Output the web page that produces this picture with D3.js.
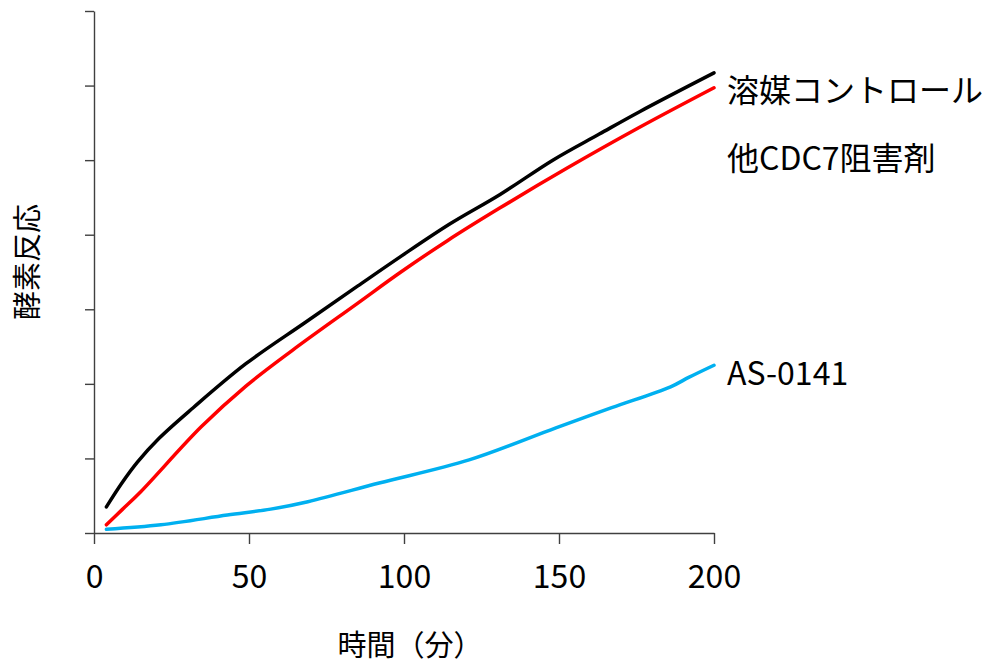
<!DOCTYPE html>
<html>
<head>
<meta charset="utf-8">
<script src="https://cdn.jsdelivr.net/npm/d3@7"></script>
<style>
  html, body { margin: 0; padding: 0; background: #fff; }
  text { font-family: "Noto Sans CJK JP", "Noto Sans", sans-serif; }
</style>
</head>
<body>
<svg id="chart" width="990" height="664"></svg>
<script>
// ---- data ----
const seriesNames = ["溶媒コントロール", "他CDC7阻害剤", "AS-0141"];
const timeVehicle = [4, 9, 14, 21, 32, 49, 68, 85, 99, 115, 131, 148, 163, 176, 200];
const valVehicle  = [0.35, 0.67, 0.95, 1.27, 1.68, 2.27, 2.82, 3.31, 3.71, 4.15, 4.54, 5.00, 5.35, 5.65, 6.17];
const timeOther   = [4, 9, 15, 34.5, 49, 64, 85, 99, 114, 131, 152.5, 176, 200];
const valOther    = [0.11, 0.31, 0.55, 1.42, 1.97, 2.45, 3.08, 3.50, 3.92, 4.36, 4.89, 5.44, 5.97];
const timeAS      = [4, 21.6, 43, 57, 69, 92, 121, 149, 167, 186, 192, 200];
const valAS       = [0.05, 0.11, 0.24, 0.32, 0.42, 0.67, 0.98, 1.41, 1.68, 1.96, 2.09, 2.25];
const xTicks = [0, 50, 100, 150, 200];
const yTicks = [0, 1, 2, 3, 4, 5, 6, 7];
const xTitle = "時間（分）";
const yTitle = "酵素反応";
const colors = ["#000000", "#ff0000", "#00b0f0"];

// ---- layout ----
const svg = d3.select("#chart");
const x = d3.scaleLinear().domain([0, 200]).range([94, 714]);
const y = d3.scaleLinear().domain([0, 7]).range([533, 11]);

const series = [
  { name: seriesNames[0], t: timeVehicle, v: valVehicle, color: colors[0], labelY: 93 },
  { name: seriesNames[1], t: timeOther,   v: valOther,   color: colors[1], labelY: 161 },
  { name: seriesNames[2], t: timeAS,      v: valAS,      color: colors[2], labelY: 376 }
];

// axes
const gx = svg.append("g").attr("transform", `translate(0,${y(0)})`)
  .call(d3.axisBottom(x).tickValues(xTicks).tickSize(11).tickSizeOuter(0).tickFormat(d3.format("d")));
gx.selectAll("text").attr("dy", null).attr("y", 46).attr("dominant-baseline", "middle")
  .attr("font-size", 32).attr("fill", "#000");

const gy = svg.append("g").attr("transform", `translate(${x(0)},0)`)
  .call(d3.axisLeft(y).tickValues(yTicks).tickSize(9).tickSizeOuter(0).tickFormat(""));

svg.selectAll(".domain").attr("stroke", "#404040").attr("stroke-width", 1.4);
svg.selectAll(".tick line").attr("stroke", "#404040").attr("stroke-width", 1.4);
gx.attr("font-family", null);
gy.attr("font-family", null);

// lines
const line = d3.line().x(d => x(d[0])).y(d => y(d[1])).curve(d3.curveCatmullRom.alpha(0.5));
series.forEach(s => {
  const pts = s.t.map((t, i) => [t, s.v[i]]);
  svg.append("path").datum(pts)
    .attr("d", line)
    .attr("fill", "none")
    .attr("stroke", s.color)
    .attr("stroke-width", 3.5)
    .attr("stroke-linejoin", "round")
    .attr("stroke-linecap", "round");
  svg.append("text")
    .attr("x", 727).attr("y", s.labelY)
    .attr("dominant-baseline", "middle")
    .attr("font-size", 32)
    .attr("fill", "#000")
    .text(s.name);
});

// titles
svg.append("text")
  .attr("x", 410).attr("y", 648)
  .attr("text-anchor", "middle").attr("dominant-baseline", "middle")
  .attr("font-size", 29).attr("fill", "#000")
  .text(xTitle);

svg.append("text")
  .attr("transform", "translate(30,262) rotate(-90)")
  .attr("text-anchor", "middle").attr("dominant-baseline", "middle")
  .attr("font-size", 29).attr("fill", "#000")
  .text(yTitle);
</script>
</body>
</html>
